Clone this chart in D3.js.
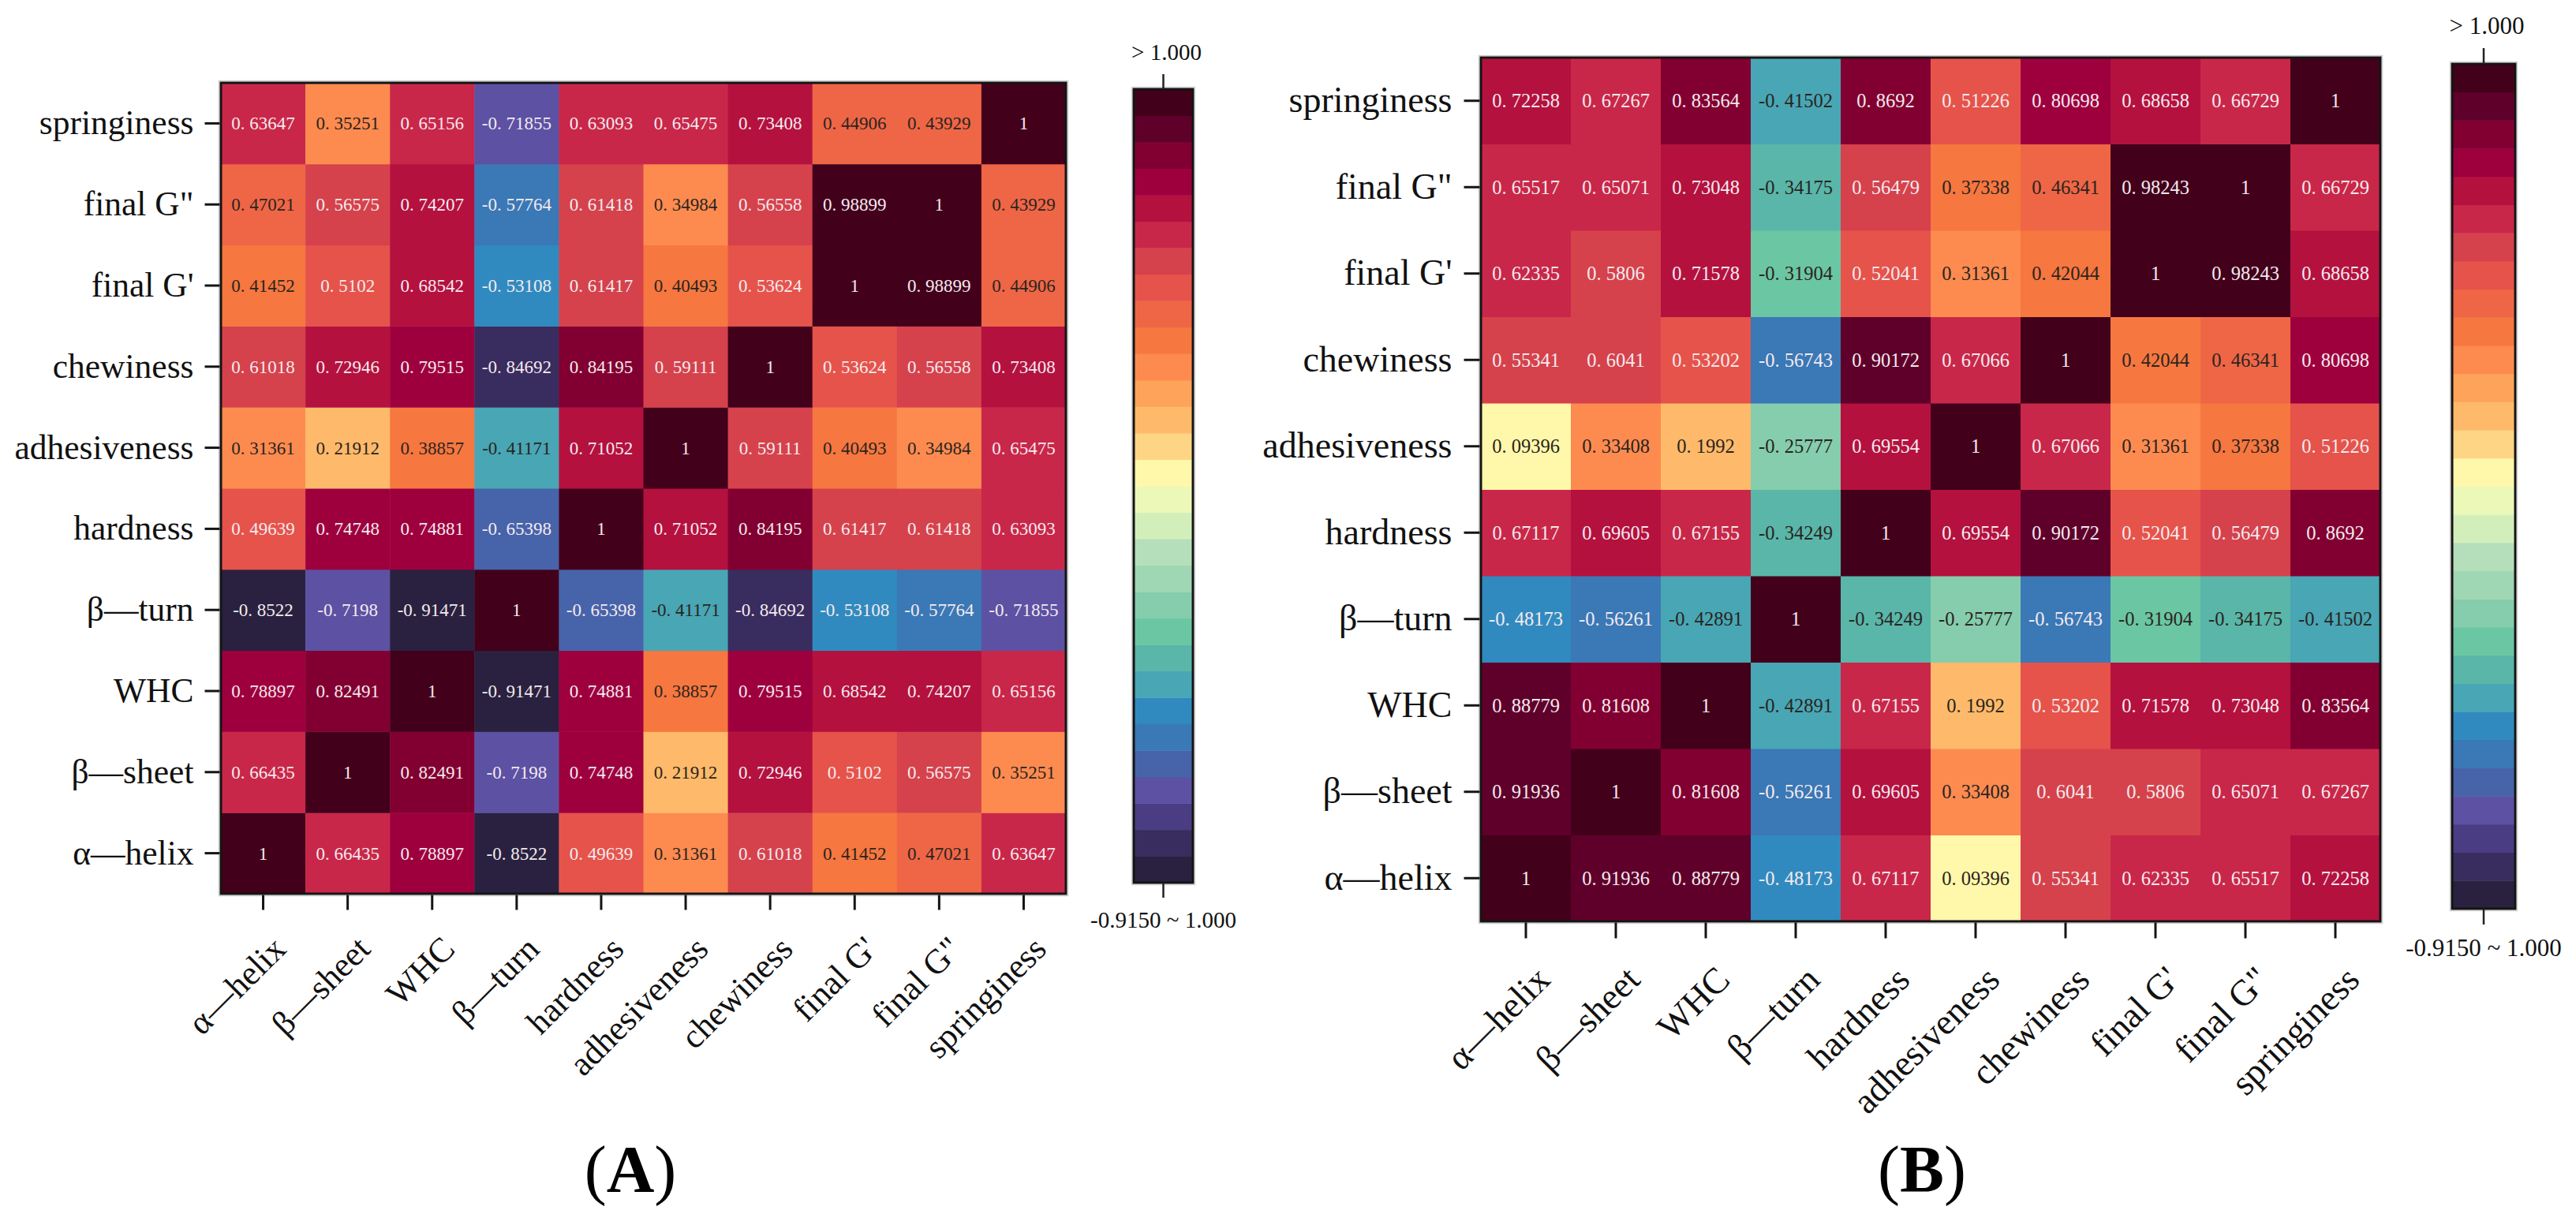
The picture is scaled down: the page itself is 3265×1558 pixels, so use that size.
<!DOCTYPE html>
<html>
<head>
<meta charset="utf-8">
<script src="https://cdn.jsdelivr.net/npm/d3@7"></script>
<style>
  body { margin: 0; background: #fff; }
</style>
</head>
<body>
<script>
// categories, same order on both axes (first one sits at the bottom of the y axis)
const categories = ["α—helix", "β—sheet", "WHC", "β—turn", "hardness", "adhesiveness",
    "chewiness", "final G'", "final G\"", "springiness"];

// correlation matrix (A), rows follow categories
const valuesA = [
    [1, 0.66435, 0.78897, -0.8522, 0.49639, 0.31361, 0.61018, 0.41452, 0.47021, 0.63647],
    [0.66435, 1, 0.82491, -0.7198, 0.74748, 0.21912, 0.72946, 0.5102, 0.56575, 0.35251],
    [0.78897, 0.82491, 1, -0.91471, 0.74881, 0.38857, 0.79515, 0.68542, 0.74207, 0.65156],
    [-0.8522, -0.7198, -0.91471, 1, -0.65398, -0.41171, -0.84692, -0.53108, -0.57764, -0.71855],
    [0.49639, 0.74748, 0.74881, -0.65398, 1, 0.71052, 0.84195, 0.61417, 0.61418, 0.63093],
    [0.31361, 0.21912, 0.38857, -0.41171, 0.71052, 1, 0.59111, 0.40493, 0.34984, 0.65475],
    [0.61018, 0.72946, 0.79515, -0.84692, 0.84195, 0.59111, 1, 0.53624, 0.56558, 0.73408],
    [0.41452, 0.5102, 0.68542, -0.53108, 0.61417, 0.40493, 0.53624, 1, 0.98899, 0.44906],
    [0.47021, 0.56575, 0.74207, -0.57764, 0.61418, 0.34984, 0.56558, 0.98899, 1, 0.43929],
    [0.63647, 0.35251, 0.65156, -0.71855, 0.63093, 0.65475, 0.73408, 0.44906, 0.43929, 1]
];

// correlation matrix (B)
const valuesB = [
    [1, 0.91936, 0.88779, -0.48173, 0.67117, 0.09396, 0.55341, 0.62335, 0.65517, 0.72258],
    [0.91936, 1, 0.81608, -0.56261, 0.69605, 0.33408, 0.6041, 0.5806, 0.65071, 0.67267],
    [0.88779, 0.81608, 1, -0.42891, 0.67155, 0.1992, 0.53202, 0.71578, 0.73048, 0.83564],
    [-0.48173, -0.56261, -0.42891, 1, -0.34249, -0.25777, -0.56743, -0.31904, -0.34175, -0.41502],
    [0.67117, 0.69605, 0.67155, -0.34249, 1, 0.69554, 0.90172, 0.52041, 0.56479, 0.8692],
    [0.09396, 0.33408, 0.1992, -0.25777, 0.69554, 1, 0.67066, 0.31361, 0.37338, 0.51226],
    [0.55341, 0.6041, 0.53202, -0.56743, 0.90172, 0.67066, 1, 0.42044, 0.46341, 0.80698],
    [0.62335, 0.5806, 0.71578, -0.31904, 0.52041, 0.31361, 0.42044, 1, 0.98243, 0.68658],
    [0.65517, 0.65071, 0.73048, -0.34175, 0.56479, 0.37338, 0.46341, 0.98243, 1, 0.66729],
    [0.72258, 0.67267, 0.83564, -0.41502, 0.8692, 0.51226, 0.80698, 0.68658, 0.66729, 1]
];

// colour bar range and its two labels
const colorDomain = [-0.915, 1];
const cbarLabels = ["-0.9150 ~ 1.000", "> 1.000"];
const panelNames = ["A", "B"];

// 30 stepped colours, low -> high
const palette = [
    "#29213f", "#392c5e", "#4a3d83", "#5d51a3", "#4763aa", "#3a78b6", "#318abf", "#48a6b5",
    "#59b6a9", "#6bc6a4", "#85cdac", "#9fd6b3", "#b5dfba", "#d2efbb", "#ecf8b8", "#fff7aa",
    "#fed585", "#feba6a", "#fea45a", "#fd8b50", "#f6773f", "#ef6646", "#e6534b", "#d5424c",
    "#c92749", "#b4113f", "#9e003e", "#820031", "#5f002b", "#42001b"
];

const width = 3265;
const height = 1558;
const serif = "'Liberation Serif', 'Times New Roman', serif";

const color = d3.scaleQuantize().domain(colorDomain).range(palette);

// luminance used to pick dark or light cell text
function luminance(c) {
    const rgb = d3.rgb(c);
    const f = v => { v /= 255; return v <= 0.03928 ? v / 12.92 : Math.pow((v + 0.055) / 1.055, 2.4); };
    return 0.2126 * f(rgb.r) + 0.7152 * f(rgb.g) + 0.0722 * f(rgb.b);
}

const fmt = v => String(v).replace(".", ". ");

// layout of each panel
const layouts = [
    { heat: [280, 105, 1351, 1133], cbar: [1437, 113, 1512, 1119], axisFont: 43.5, cellFont: 23,
      cbarFont: 29, tick: 19, pad: 14, lab: [31, 52], cbarGap: [18, 38], name: [799, 1511] },
    { heat: [1877, 73, 3017, 1168], cbar: [3108, 81, 3188, 1152], axisFont: 46, cellFont: 24.5,
      cbarFont: 31, tick: 20, pad: 15, lab: [33, 55], cbarGap: [18, 40], name: [2436, 1511] }
];

const svg = d3.select("body").append("svg")
    .attr("width", width)
    .attr("height", height)
    .attr("viewBox", [0, 0, width, height]);

svg.append("rect").attr("width", width).attr("height", height).attr("fill", "#fff");

function drawPanel(values, L, name) {
    const [hx0, hy0, hx1, hy1] = L.heat;

    const x = d3.scaleBand().domain(categories).range([hx0, hx1]);
    const y = d3.scaleBand().domain(categories).range([hy1, hy0]);

    const cells = [];
    values.forEach((row, i) => row.forEach((v, j) => cells.push({ r: categories[i], c: categories[j], v })));

    const g = svg.append("g");

    // heatmap cells
    g.selectAll("rect.cell")
        .data(cells)
        .join("rect")
        .attr("class", "cell")
        .attr("x", d => x(d.c))
        .attr("y", d => y(d.r))
        .attr("width", x.bandwidth() + 0.5)
        .attr("height", y.bandwidth() + 0.5)
        .attr("fill", d => color(d.v));

    // cell values
    g.selectAll("text.val")
        .data(cells)
        .join("text")
        .attr("class", "val")
        .attr("x", d => x(d.c) + x.bandwidth() / 2)
        .attr("y", d => y(d.r) + y.bandwidth() / 2)
        .attr("dy", "0.35em")
        .attr("text-anchor", "middle")
        .attr("font-family", serif)
        .attr("font-size", L.cellFont)
        .attr("fill", d => luminance(color(d.v)) > 0.25 ? "#2a2420" : "#f4eaee")
        .text(d => fmt(d.v));

    // frame
    g.append("rect")
        .attr("x", hx0 - 2.5).attr("y", hy0 - 2.5)
        .attr("width", hx1 - hx0 + 5).attr("height", hy1 - hy0 + 5)
        .attr("fill", "none").attr("stroke", "#cfcfcf").attr("stroke-width", 1.5);
    g.append("rect")
        .attr("x", hx0).attr("y", hy0)
        .attr("width", hx1 - hx0).attr("height", hy1 - hy0)
        .attr("fill", "none").attr("stroke", "#141414").attr("stroke-width", 3);

    // y axis
    g.append("g")
        .attr("transform", `translate(${hx0 - 1.5},0)`)
        .call(d3.axisLeft(y).tickSize(L.tick).tickPadding(L.pad))
        .call(a => a.select(".domain").remove())
        .call(a => a.selectAll("line").attr("stroke", "#141414").attr("stroke-width", 3))
        .call(a => a.selectAll("text")
            .attr("font-family", serif)
            .attr("font-size", L.axisFont)
            .attr("fill", "#111"));

    // x axis, labels rotated 45 degrees
    g.append("g")
        .attr("transform", `translate(0,${hy1 + 1.5})`)
        .call(d3.axisBottom(x).tickSize(L.tick))
        .call(a => a.select(".domain").remove())
        .call(a => a.selectAll("line").attr("stroke", "#141414").attr("stroke-width", 3))
        .call(a => a.selectAll("text")
            .attr("x", 0).attr("y", 0).attr("dy", 0)
            .attr("text-anchor", "end")
            .attr("transform", `translate(${L.lab[0]},${L.tick + L.lab[1]}) rotate(-45)`)
            .attr("font-family", serif)
            .attr("font-size", L.axisFont)
            .attr("fill", "#111"));

    // colour bar
    const [cx0, cy0, cx1, cy1] = L.cbar;
    const cy = d3.scaleLinear().domain(colorDomain).range([cy1, cy0]);
    const cmid = (cx0 + cx1) / 2;

    g.selectAll("rect.bin")
        .data(palette)
        .join("rect")
        .attr("class", "bin")
        .attr("x", cx0)
        .attr("width", cx1 - cx0)
        .attr("y", c => cy(color.invertExtent(c)[1]))
        .attr("height", c => cy(color.invertExtent(c)[0]) - cy(color.invertExtent(c)[1]) + 0.5)
        .attr("fill", c => c);

    g.append("rect")
        .attr("x", cx0 - 2.5).attr("y", cy0 - 2.5)
        .attr("width", cx1 - cx0 + 5).attr("height", cy1 - cy0 + 5)
        .attr("fill", "none").attr("stroke", "#d5d5d5").attr("stroke-width", 1.5);
    g.append("rect")
        .attr("x", cx0).attr("y", cy0)
        .attr("width", cx1 - cx0).attr("height", cy1 - cy0)
        .attr("fill", "none").attr("stroke", "#141414").attr("stroke-width", 3);

    // the two colour bar ticks: bottom (range) and top (> max)
    const ends = [
        { y: cy(colorDomain[0]), dir: 1, label: cbarLabels[0] },
        { y: cy(colorDomain[1]), dir: -1, label: cbarLabels[1] }
    ];
    g.selectAll("line.ctick")
        .data(ends)
        .join("line")
        .attr("class", "ctick")
        .attr("x1", cmid).attr("x2", cmid)
        .attr("y1", d => d.y)
        .attr("y2", d => d.y + d.dir * L.tick)
        .attr("stroke", "#222").attr("stroke-width", 2.5);

    g.selectAll("text.clab")
        .data(ends)
        .join("text")
        .attr("class", "clab")
        .attr("x", d => d.dir < 0 ? cmid + 4 : cmid)
        .attr("y", d => d.dir < 0 ? d.y - L.tick - L.cbarGap[0] : d.y + L.tick + L.cbarGap[1])
        .attr("text-anchor", "middle")
        .attr("font-family", serif)
        .attr("font-size", L.cbarFont)
        .attr("fill", "#111")
        .text(d => d.label);

    // panel letter
    const t = g.append("text")
        .attr("x", L.name[0])
        .attr("y", L.name[1])
        .attr("text-anchor", "middle")
        .attr("font-family", serif)
        .attr("font-size", 84)
        .attr("fill", "#000");
    t.append("tspan").text("(");
    t.append("tspan").attr("font-weight", "bold").text(name);
    t.append("tspan").text(")");
}

drawPanel(valuesA, layouts[0], panelNames[0]);
drawPanel(valuesB, layouts[1], panelNames[1]);
</script>
</body>
</html>
